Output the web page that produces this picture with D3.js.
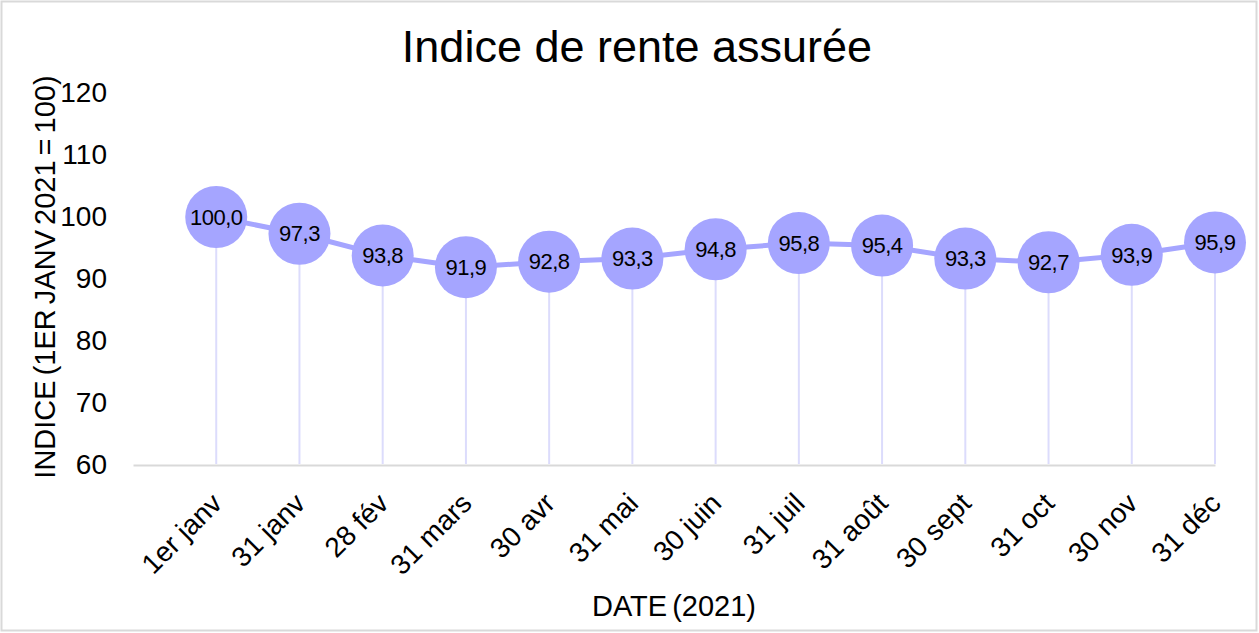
<!doctype html>
<html lang="fr">
<head>
<meta charset="UTF-8">
<title>Indice de rente assurée</title>
<script src="https://d3js.org/d3.v7.min.js"></script>
<style>
  body { margin: 0; background: #fff; }
  text { font-family: "Liberation Sans", Arial, sans-serif; fill: #000; }
</style>
</head>
<body>
<div id="chart-area"></div>
<script>

const categories = ['1er janv', '31 janv', '28 fév', '31 mars', '30 avr', '31 mai', '30 juin',
                    '31 juil', '31 août', '30 sept', '31 oct', '30 nov', '31 déc'];
const values = [100.0, 97.3, 93.8, 91.9, 92.8, 93.3, 94.8, 95.8, 95.4, 93.3, 92.7, 93.9, 95.9];
const yTicks = [60, 70, 80, 90, 100, 110, 120];

const W = 1259, H = 633;
const margin = { top: 93, right: 44, bottom: 168, left: 133 };
const chartW = W - margin.left - margin.right;
const chartH = H - margin.top - margin.bottom;

const data = categories.map((c, i) => ({ c, i: i + 1, v: values[i] }));

const svg = d3.select('#chart-area')
    .append('svg')
    .attr('width', W)
    .attr('height', H);

// outer frame
svg.append('rect')
    .attr('x', 1.5).attr('y', 1.5)
    .attr('width', W - 4).attr('height', H - 4)
    .attr('fill', '#fff')
    .attr('stroke', '#d9d9d9')
    .attr('stroke-width', 2);

const g = svg.append('g')
    .attr('transform', `translate(${margin.left},${margin.top})`);

const x = d3.scaleLinear().domain([0, categories.length]).range([0, chartW]);
const y = d3.scaleLinear().domain([60, 120]).range([chartH, 0]);

// y axis (labels only)
const yAxis = g.append('g')
    .call(d3.axisLeft(y).tickValues(yTicks).tickSize(0).tickPadding(26));
yAxis.select('.domain').remove();
yAxis.selectAll('text')
    .attr('font-size', '28px')
    .attr('font-family', '"Liberation Sans", Arial, sans-serif');

// x axis
const xAxis = g.append('g')
    .attr('transform', `translate(0,${chartH})`)
    .call(d3.axisBottom(x)
        .tickValues(data.map(d => d.i))
        .tickFormat(i => categories[i - 1])
        .tickSize(0));
xAxis.select('.domain')
    .attr('stroke', '#d9d9d9')
    .attr('stroke-width', 2);
xAxis.selectAll('text')
    .attr('font-size', '28px')
    .attr('font-family', '"Liberation Sans", Arial, sans-serif')
    .attr('text-anchor', 'end')
    .attr('y', 0)
    .attr('dy', 0)
    .attr('transform', 'translate(7,40) rotate(-45)');

// drop lines
g.selectAll('.drop').data(data).enter().append('line')
    .attr('class', 'drop')
    .attr('x1', d => x(d.i)).attr('x2', d => x(d.i))
    .attr('y1', d => y(d.v)).attr('y2', chartH - 1)
    .attr('stroke', '#dcdcfc')
    .attr('stroke-width', 2);

// connecting line
g.append('path')
    .datum(data)
    .attr('fill', 'none')
    .attr('stroke', '#a5a5ff')
    .attr('stroke-width', 5)
    .attr('d', d3.line().x(d => x(d.i)).y(d => y(d.v)));

// markers
g.selectAll('.dot').data(data).enter().append('circle')
    .attr('class', 'dot')
    .attr('cx', d => x(d.i))
    .attr('cy', d => y(d.v))
    .attr('r', 31)
    .attr('fill', '#a5a5ff');

const fmt = d3.format('.1f');
g.selectAll('.lbl').data(data).enter().append('text')
    .attr('class', 'lbl')
    .attr('x', d => x(d.i))
    .attr('y', d => y(d.v))
    .attr('dy', '0.35em')
    .attr('text-anchor', 'middle')
    .attr('font-size', '22px')
    .attr('letter-spacing', '-0.5px')
    .text(d => fmt(d.v).replace('.', ','));

// title
svg.append('text')
    .attr('x', 637).attr('y', 62)
    .attr('text-anchor', 'middle')
    .attr('font-size', '45px')
    .text('Indice de rente assurée');

// axis titles
svg.append('text')
    .attr('transform', 'translate(55,277) rotate(-90)')
    .attr('text-anchor', 'middle')
    .attr('font-size', '29px')
    .attr('word-spacing', '-3px')
    .text('INDICE (1ER JANV 2021 = 100)');

svg.append('text')
    .attr('x', 674).attr('y', 616)
    .attr('text-anchor', 'middle')
    .attr('font-size', '29px')
    .attr('word-spacing', '-3px')
    .text('DATE (2021)');

</script>
</body>
</html>
